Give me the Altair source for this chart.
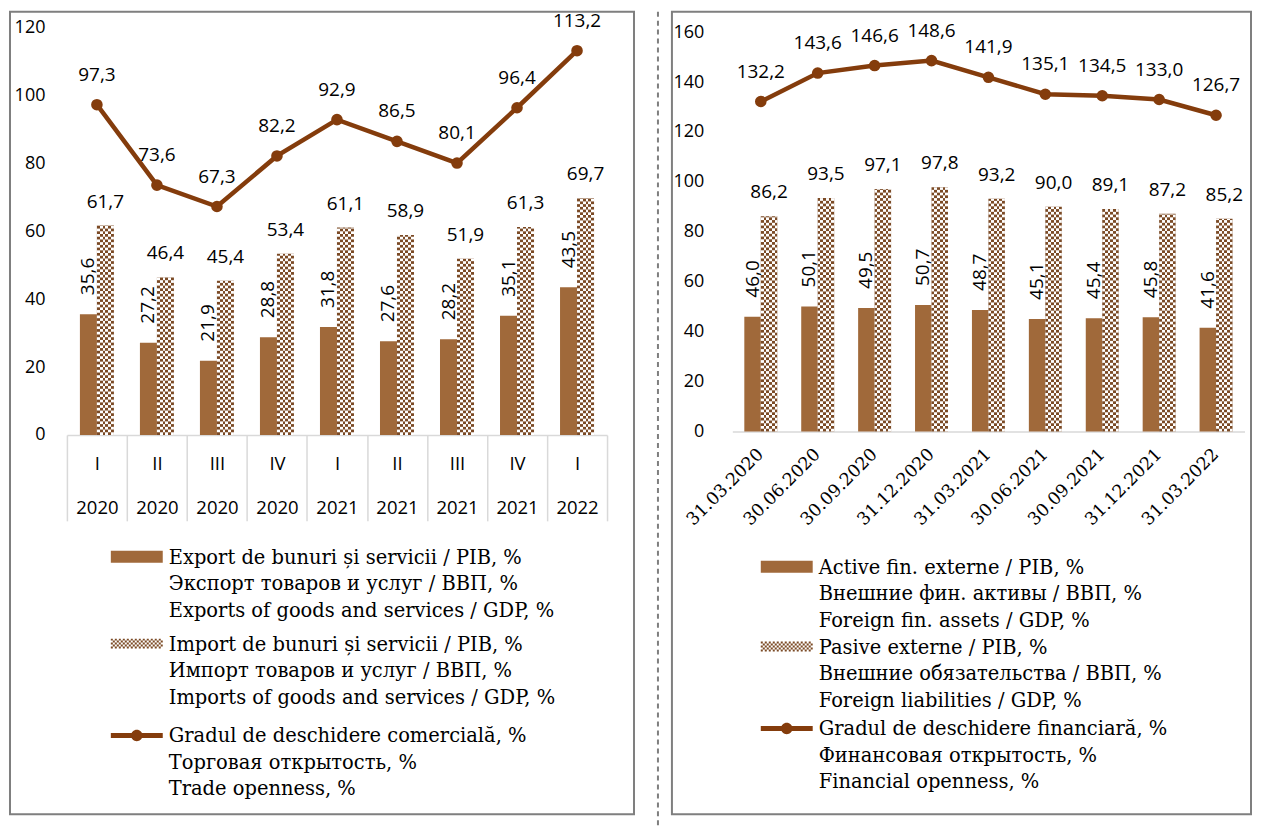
import altair as alt
import pandas as pd

# ---------------- left panel: trade ----------------
quarters = ["I", "II", "III", "IV", "I", "II", "III", "IV", "I"]
years = ["2020", "2020", "2020", "2020", "2021", "2021", "2021", "2021", "2022"]
exports_gdp = [35.6, 27.2, 21.9, 28.8, 31.8, 27.6, 28.2, 35.1, 43.5]
imports_gdp = [61.7, 46.4, 45.4, 53.4, 61.1, 58.9, 51.9, 61.3, 69.7]
trade_open = [97.3, 73.6, 67.3, 82.2, 92.9, 86.5, 80.1, 96.4, 113.2]
left_ticks = [0, 20, 40, 60, 80, 100, 120]
left_legend = [
    "Export de bunuri și servicii / PIB, %|Экспорт товаров и услуг / ВВП, %|Exports of goods and services / GDP, %",
    "Import de bunuri și servicii / PIB, %|Импорт товаров и услуг / ВВП, %|Imports of goods and services / GDP, %",
    "Gradul de deschidere comercială, %|Торговая открытость, %|Trade openness, %",
]

# ---------------- right panel: financial ----------------
dates = ["31.03.2020", "30.06.2020", "30.09.2020", "31.12.2020", "31.03.2021",
         "30.06.2021", "30.09.2021", "31.12.2021", "31.03.2022"]
assets_gdp = [46.0, 50.1, 49.5, 50.7, 48.7, 45.1, 45.4, 45.8, 41.6]
liab_gdp = [86.2, 93.5, 97.1, 97.8, 93.2, 90.0, 89.1, 87.2, 85.2]
fin_open = [132.2, 143.6, 146.6, 148.6, 141.9, 135.1, 134.5, 133.0, 126.7]
right_ticks = [0, 20, 40, 60, 80, 100, 120, 140, 160]
right_legend = [
    "Active fin. externe / PIB, %|Внешние фин. активы / ВВП, %|Foreign fin. assets / GDP, %",
    "Pasive externe / PIB, %|Внешние обязательства / ВВП, %|Foreign liabilities / GDP, %",
    "Gradul de deschidere financiară, %|Финансовая открытость, %|Financial openness, %",
]

EXP = "#A0693A"
CHK = "#7B4A25"
LINE = "#843C0C"
GRID = "#D9D9D9"
BORDER = "#7F7F7F"
LBL_FONT = "Open Sans"
SERIF = "DejaVu Serif"
LEG_SIZE = 19.5
CLEAR = "rgba(255,255,255,0)"


def white_checker(flip, ncols=6):
    # white squares over a dark-brown bar -> checkerboard
    stops = []
    for i in range(ncols):
        c = CLEAR if ((i % 2 == 0) != flip) else "#FFFFFF"
        stops.append(alt.GradientStop(offset=i / ncols, color=c))
        stops.append(alt.GradientStop(offset=(i + 1) / ncols, color=c))
    return alt.LinearGradient(gradient="linear", stops=stops, x1=0, x2=1, y1=0, y2=0)


# legend swatch shapes (unit coordinates, 1 unit = 26 px), raised to the cap-height centre
SH = -0.27
RECT_PATH = f"M-1,{-0.23 + SH:.3f}H1V{0.23 + SH:.3f}H-1Z"
u = 2 / 26
_parts = []
for r in range(5):
    for c in range(26):
        if (r + c) % 2 == 0:
            x0, x1 = -1 + c * u, -1 + (c + 1) * u
            y0, y1 = -2.5 * u + r * u + SH, -2.5 * u + (r + 1) * u + SH
            _parts.append(f"M{x0:.4f},{y0:.4f}L{x1:.4f},{y0:.4f}L{x1:.4f},{y1:.4f}L{x0:.4f},{y1:.4f}Z")
CHECK_PATH = "".join(_parts)
LINE_PATH = (f"M-1,{-0.096 + SH:.3f}H1V{0.096 + SH:.3f}H-1Z "
             f"M-0.22,{SH:.3f}A0.22,0.22 0 1,1 0.22,{SH:.3f}A0.22,0.22 0 1,1 -0.22,{SH:.3f}Z")


def legend_def(x, y, path, fill=None):
    kw = dict(orient="none", legendX=x, legendY=y, title=None, symbolType=path,
              symbolSize=2704, labelOffset=6, padding=0, labelBaseline="alphabetic",
              labelFont=SERIF, labelFontSize=LEG_SIZE, labelColor="black", labelLimit=1000,
              labelExpr="split(datum.label, '|')", symbolStrokeWidth=0, symbolOpacity=1)
    if fill:
        kw["symbolFillColor"] = fill
    return alt.Legend(**kw)


def panel(cats, b1, b2, ln, ymax, ticks, leg, *, W, H, xrange, yrange, sub_pad,
          row_step, half, y_off, leg_x, leg_ys, xaxis_main, extra_layers=()):
    df = pd.DataFrame({"cat": cats, "b1": b1, "b2": b2, "ln": ln})
    df["ser1"] = leg[0]
    df["ser2"] = leg[1]
    df["ser3"] = leg[2]
    df["s1"] = "b1"
    df["s2"] = "b2"

    xsc = alt.Scale(domain=cats, range=xrange, paddingInner=0, paddingOuter=0)
    ysc = alt.Scale(domain=[0, ymax], range=yrange, nice=False, zero=True)
    osc = alt.Scale(domain=["b1", "b2"], paddingInner=0, paddingOuter=sub_pad)
    yaxis = alt.Axis(values=ticks, domain=False, ticks=False, grid=False,
                     labelPadding=2, offset=y_off, title=None,
                     labelFont=LBL_FONT, labelFontSize=18, labelColor="black")

    def X():
        return alt.X("cat:N", sort=cats, scale=xsc, axis=xaxis_main, title=None)

    def Y(field):
        return alt.Y(field, scale=ysc, axis=yaxis, title=None)

    base = alt.Chart(df)

    bars1 = base.mark_bar().encode(
        x=X(),
        xOffset=alt.XOffset("s1:N", scale=osc),
        y=Y("b1:Q"),
        color=alt.Color("ser1:N", scale=alt.Scale(domain=[leg[0]], range=[EXP]),
                        legend=legend_def(leg_x, leg_ys[0], RECT_PATH)),
    )

    bars2 = base.mark_bar(color=CHK).encode(
        x=X(),
        xOffset=alt.XOffset("s2:N", scale=osc),
        y=Y("b2:Q"),
        opacity=alt.Opacity("ser2:O", scale=alt.Scale(domain=[leg[1]], range=[1]),
                            legend=legend_def(leg_x, leg_ys[1], CHECK_PATH, CHK)),
    )

    rows = base.transform_calculate(
        seq=f"sequence(0, datum.b2, {row_step})"
    ).transform_flatten(["seq"]).transform_calculate(
        y0="datum.seq",
        y1=f"min(datum.seq + {row_step}, datum.b2)",
        par=f"round(datum.seq / {row_step}) % 2",
    )
    rows_a = rows.transform_filter("datum.par == 0").mark_bar(fill=white_checker(False)).encode(
        x=X(), xOffset=alt.XOffset("s2:N", scale=osc), y=Y("y0:Q"), y2="y1:Q")
    rows_b = rows.transform_filter("datum.par == 1").mark_bar(fill=white_checker(True)).encode(
        x=X(), xOffset=alt.XOffset("s2:N", scale=osc), y=Y("y0:Q"), y2="y1:Q")

    line = base.mark_line(color=LINE, strokeWidth=4.5).encode(x=X(), y=Y("ln:Q"))
    pts = base.mark_circle(color=LINE, size=135, opacity=1).encode(
        x=X(), y=Y("ln:Q"),
        strokeDash=alt.StrokeDash("ser3:N", scale=alt.Scale(domain=[leg[2]], range=[[1, 0]]),
                                  legend=legend_def(leg_x, leg_ys[2], LINE_PATH, LINE)))

    fmt = "replace(format(datum.{f}, '.1f'), '.', ',')"
    t_line = base.transform_calculate(t=fmt.format(f="ln")).mark_text(
        dy=-30, baseline="middle", font=LBL_FONT, fontSize=19, color="black").encode(
        x=X(), y=Y("ln:Q"), text="t:N")
    t_b2 = base.transform_calculate(t=fmt.format(f="b2")).mark_text(
        dx=half, dy=-24, baseline="middle", font=LBL_FONT, fontSize=19, color="black").encode(
        x=X(), y=Y("b2:Q"), text="t:N")
    t_b1 = base.transform_calculate(t=fmt.format(f="b1")).mark_text(
        angle=270, align="left", baseline="middle", dx=19, dy=-half,
        font=LBL_FONT, fontSize=19, color="black").encode(
        x=X(), y=Y("b1:Q"), text="t:N")

    layers = [bars1, bars2, rows_a, rows_b, line, pts, t_line, t_b2, t_b1] + list(extra_layers)
    return alt.layer(*layers).properties(width=W, height=H)


# ---- left ----
LW, LH = 625, 804
l_yrange = [424, 16]
left_cats = [f"{q}|{y}" for q, y in zip(quarters, years)]
left_axis_main = alt.Axis(
    labelExpr="split(datum.label, '|')", labelLineHeight=44, tickBand="extent", tickSize=86,
    tickColor=GRID, tickWidth=1.5, domainColor=GRID, domainWidth=1.5,
    labelPadding=-66, offset=-(LH - l_yrange[0]), labelFont=LBL_FONT,
    labelFontSize=18.5, labelColor="black", labelAngle=0, grid=False, title=None,
    labelOverlap=False)
sep = alt.Chart(pd.DataFrame({"k": [0]})).mark_rule(
    color=BORDER, strokeWidth=2, strokeDash=[5, 4]).encode(
    x=alt.value(649), y=alt.value(0), y2=alt.value(815))

left = panel(left_cats, exports_gdp, imports_gdp, trade_open, 120, left_ticks, left_legend,
             W=LW, H=LH, xrange=[57, 598], yrange=l_yrange, sub_pad=0.765,
             row_step=0.8, half=8.5, y_off=-37, leg_x=101, leg_ys=[527, 614, 706],
             xaxis_main=left_axis_main, extra_layers=[sep])

# ---- right ----
RW, RH = 580, 804
r_yrange = [420.5, 20.5]
right_axis = alt.Axis(
    labelAngle=-45, labelAlign="right", labelBaseline="middle", ticks=False,
    domainColor=GRID, domainWidth=1.5, labelPadding=20, offset=-(RH - r_yrange[0]),
    labelFont=SERIF, labelFontSize=17.5, labelColor="black", grid=False, title=None,
    labelOverlap=False)

right = panel(dates, assets_gdp, liab_gdp, fin_open, 160, right_ticks, right_legend,
              W=RW, H=RH, xrange=[60.5, 573.5], yrange=r_yrange, sub_pad=0.727,
              row_step=1.1, half=8.25, y_off=-34, leg_x=89, leg_ys=[537, 617, 699],
              xaxis_main=right_axis)

chart = alt.hconcat(left, right, spacing=38).resolve_scale(
    color="independent", opacity="independent", strokeDash="independent",
    xOffset="independent"
).properties(
    padding={"left": 1, "top": 1, "right": 1, "bottom": 1}, bounds="flush"
).configure(
    style={"guide-label": {"lineHeight": 26.5}}
).configure_view(stroke=BORDER, strokeWidth=2)

chart.save("out.html", embed_options={"renderer": "svg", "actions": False})
